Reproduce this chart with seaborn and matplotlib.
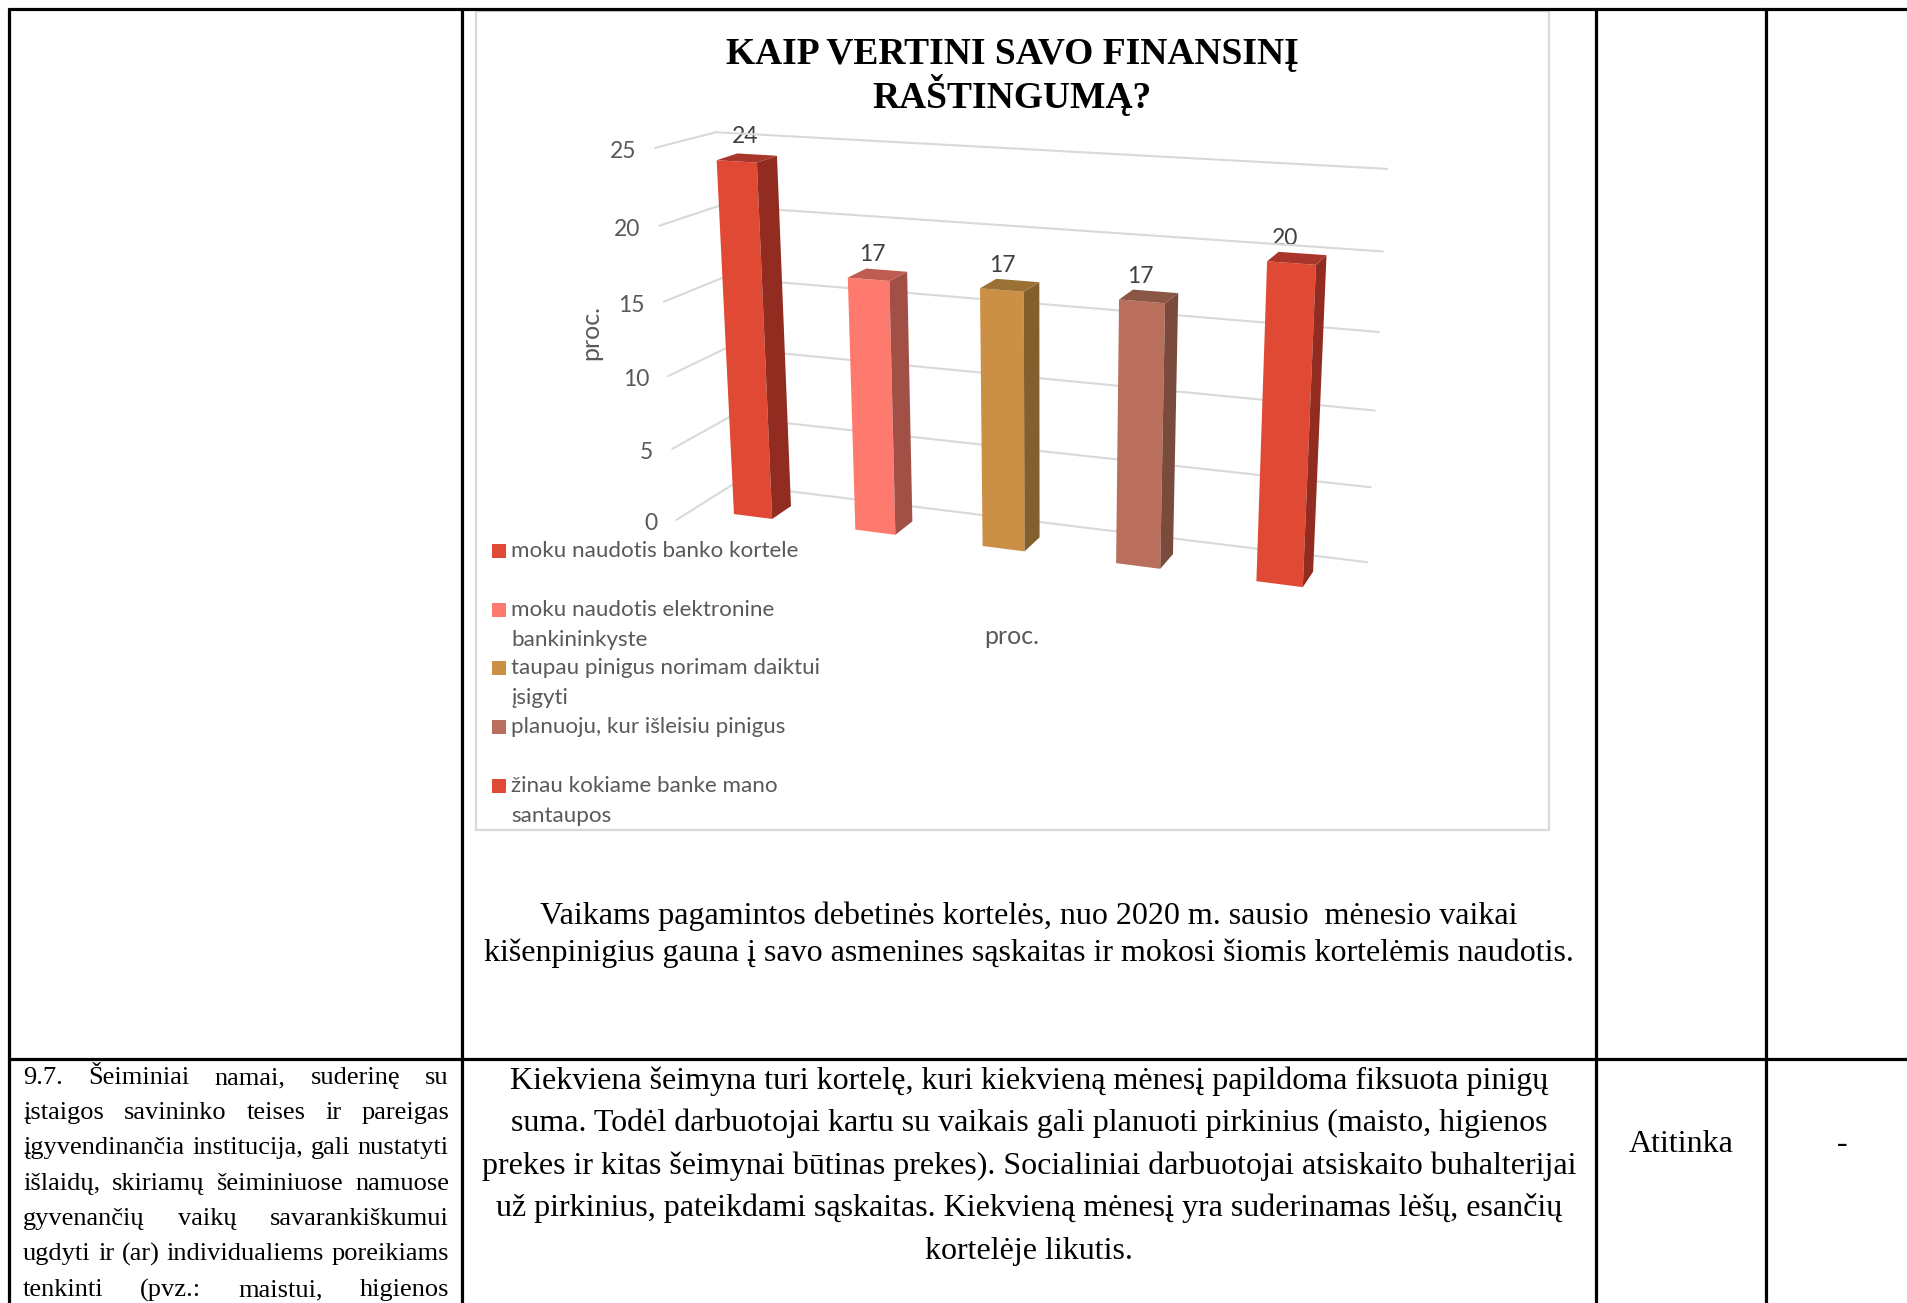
import matplotlib
matplotlib.use("Agg")
import matplotlib.pyplot as plt
from matplotlib.patches import Polygon, Rectangle
from matplotlib.transforms import Transform
import numpy as np
import pandas as pd
import seaborn as sns

sns.set_theme(style="white")

categories = ["moku naudotis banko kortele", "moku naudotis elektronine bankininkyste",
              "taupau pinigus norimam daiktui įsigyti", "planuoju, kur išleisiu pinigus",
              "žinau kokiame banke mano santaupos"]
values = [24, 17, 17, 17, 20]
colors = ["#E04933", "#FF7A6E", "#CC8F46", "#B96F5C", "#E04933"]
side_colors = ["#922B20", "#A25045", "#835F2E", "#794B3C", "#922B20"]
top_colors = ["#A8362A", "#BE5C50", "#9A7035", "#8A5745", "#A8362A"]
y_ticks = [0, 5, 10, 15, 20, 25]
legend_lines = [["moku naudotis banko kortele"],
                ["moku naudotis elektronine", "bankininkyste"],
                ["taupau pinigus norimam daiktui", "įsigyti"],
                ["planuoju, kur išleisiu pinigus"],
                ["žinau kokiame banke mano", "santaupos"]]

title_lines = ["KAIP VERTINI SAVO FINANSINĮ", "RAŠTINGUMĄ?"]
caption_lines = ["Vaikams pagamintos debetinės kortelės, nuo 2020 m. sausio  mėnesio vaikai",
                 "kišenpinigius gauna į savo asmenines sąskaitas ir mokosi šiomis kortelėmis naudotis."]
body_lines = ["Kiekviena šeimyna turi kortelę, kuri kiekvieną mėnesį papildoma fiksuota pinigų",
              "suma. Todėl darbuotojai kartu su vaikais gali planuoti pirkinius (maisto, higienos",
              "prekes ir kitas šeimynai būtinas prekes). Socialiniai darbuotojai atsiskaito buhalterijai",
              "už pirkinius, pateikdami sąskaitas. Kiekvieną mėnesį yra suderinamas lėšų, esančių",
              "kortelėje likutis."]
left_lines = ["9.7. Šeiminiai namai, suderinę su",
              "įstaigos savininko teises ir pareigas",
              "įgyvendinančia institucija, gali nustatyti",
              "išlaidų, skiriamų šeiminiuose namuose",
              "gyvenančių vaikų savarankiškumui",
              "ugdyti ir (ar) individualiems poreikiams",
              "tenkinti (pvz.: maistui, higienos"]


# fake 3D: category position, value and depth to page pixels
def project(x, y, z=0.0):
    x, y, z = np.asarray(x, float), np.asarray(y, float), np.asarray(z, float)
    w = 1 - 0.0231 * x - 0.0022 * y + 0.018 * z
    px = 753 + 102.07 * x - 2.3 * y + 32.94 * z
    py = 516.5 + 3.42 * x - 15.15 * y - 3.69 * z
    return px / w, py / w


class Perspective(Transform):
    input_dims = 2
    output_dims = 2

    def __init__(self, z=0.0):
        super().__init__()
        self.z = z

    def transform_non_affine(self, values):
        px, py = project(values[:, 0], values[:, 1], self.z)
        return np.column_stack([px, py])


fig = plt.figure(figsize=(19.08, 13.03), dpi=100)
page = fig.add_axes([0, 0, 1, 1])
page.set_xlim(0, 1908)
page.set_ylim(1303, 0)
page.axis("off")

# table rules
for x in [9, 462, 1596, 1766]:
    page.plot([x, x], [9, 1303], color="black", lw=2.3)
page.plot([9, 1908], [9, 9], color="black", lw=2.3)
page.plot([9, 1908], [1059, 1059], color="black", lw=2.3)

# chart frame
page.add_patch(Rectangle((476, 11), 1073, 819, fill=False, ec="#d9d9d9", lw=1.6))

for y, line in zip([64.5, 107.5], title_lines):
    page.text(1012, y, line, ha="center", va="baseline", family="Liberation Serif",
              weight="bold", size=27, color="black")

grey = "#595959"
label_font = "Lato"
chart = fig.add_axes([0, 0, 1, 1])
df = pd.DataFrame({"category": categories, "value": values})
sns.barplot(data=df, x="category", y="value", hue="category", palette=colors, hue_order=categories,
            order=categories, dodge=False, width=0.32, saturation=1, legend=False, ax=chart)
chart.axis("off")

to_page = page.transData
wall = 0.993
for v in y_ticks:
    chart.plot([-0.5, 4.47], [v * wall, v * wall], color="#d9d9d9", lw=1.5, zorder=0.5, clip_on=False,
               transform=Perspective(2.0) + to_page)
    fx, fy = project(-0.5, v, -0.85)
    bx, by = project(-0.5, v * wall, 2.0)
    page.plot([fx, bx], [fy, by], color="#d9d9d9", lw=1.5, zorder=0.5)
    page.text(fx - 19, fy + 3.5, str(v), ha="right", va="center", family=label_font, size=16.5, color=grey)

for i, bar in enumerate(chart.patches):
    x0, x1, h = bar.get_x(), bar.get_x() + bar.get_width(), bar.get_height()
    bar.set_transform(Perspective(0.0) + to_page)
    bar.set_clip_on(False)
    bar.set_linewidth(0)
    side = np.column_stack(project([x1, x1, x1, x1], [0, 0, h, h], [0, 1, 1, 0]))
    top = np.column_stack(project([x0, x1, x1, x0], [h, h, h, h], [0, 0, 1, 1]))
    chart.add_patch(Polygon(side, fc=side_colors[i], lw=0, transform=to_page, clip_on=False))
    chart.add_patch(Polygon(top, fc=top_colors[i], lw=0, transform=to_page, clip_on=False))
    cx = x0 + bar.get_width() / 2
    lx = project(cx, h * 0.5)[0]
    ly = project(cx, h)[1] - 25
    page.text(lx, ly, str(values[i]), ha="center", va="center", family=label_font, size=16.5, color="#404040")

page.text(591, 333, "proc.", rotation=90, ha="center", va="center", family=label_font, size=18, color=grey)
page.text(1012, 637, "proc.", ha="center", va="center", family=label_font, size=18, color=grey)

# legend
legend_y = [551, 610, 668, 727, 786]
for c, y0, lines in zip(colors, legend_y, legend_lines):
    page.add_patch(Rectangle((492, y0 - 7), 14, 14, fc=c, lw=0))
    for k, line in enumerate(lines):
        page.text(511.5, y0 + 6 + k * 30, line, ha="left", va="baseline", family=label_font, size=16.1, color=grey)

# document text
for y, line in zip([916, 953], caption_lines):
    page.text(1029, y, line, ha="center", va="center", family="Liberation Serif", size=23, color="black")
for y, line in zip([1081, 1123, 1166, 1208, 1251], body_lines):
    page.text(1029, y, line, ha="center", va="center", family="Liberation Serif", size=23, color="black")
page.text(1681, 1144, "Atitinka", ha="center", va="center", family="Liberation Serif", size=23, color="black")
page.text(1842, 1145, "-", ha="center", va="center", family="Liberation Serif", size=23, color="black")

# justified left column
renderer = fig.canvas.get_renderer()
left_y = [1078, 1113, 1148, 1184, 1219, 1254, 1290]
for y, line in zip(left_y, left_lines):
    words = line.split()
    items = [page.text(0, y, w, ha="left", va="center", family="Liberation Serif", size=19, color="black")
             for w in words]
    widths = [t.get_window_extent(renderer).width for t in items]
    gap = (449 - 23 - sum(widths)) / (len(words) - 1)
    x = 23
    for t, w in zip(items, widths):
        t.set_x(x)
        x += w + gap

fig.savefig("out.png", dpi=100)
plt.close(fig)
